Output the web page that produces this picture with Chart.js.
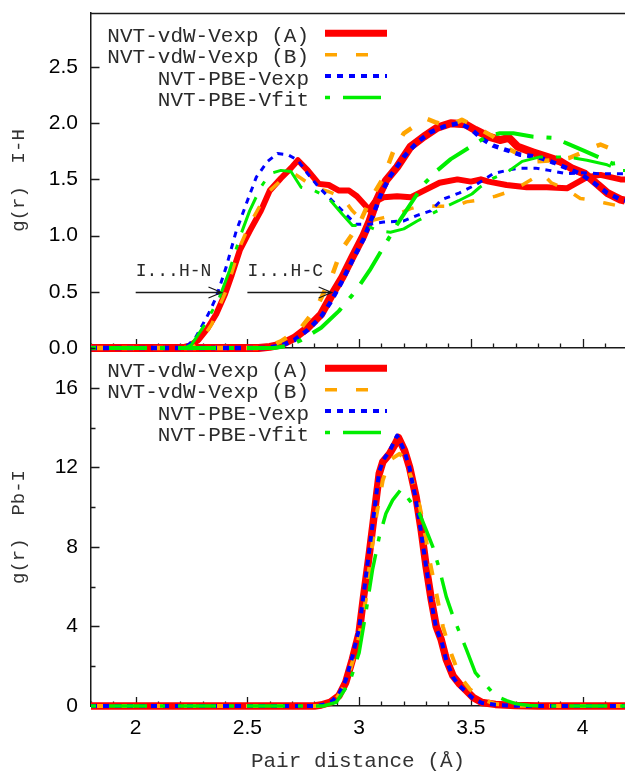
<!DOCTYPE html>
<html>
<head>
<meta charset="utf-8">
<script src="https://cdn.jsdelivr.net/npm/chart.js@4.4.1/dist/chart.umd.min.js"></script>
<style>
  html, body { margin: 0; padding: 0; background: #fff; overflow: hidden; }
  #wrap { position: relative; width: 625px; height: 772px; }
  #wrap canvas { position: absolute; left: 0; top: 0; }
</style>
</head>
<body>
<div id="wrap">
  <canvas id="ihChart" width="625" height="772"></canvas>
  <canvas id="pbiChart" width="625" height="772"></canvas>
</div>
<script>
// series names (legend order)
const seriesNames = ['NVT-vdW-Vexp (A)', 'NVT-vdW-Vexp (B)', 'NVT-PBE-Vexp', 'NVT-PBE-Vfit'];

// ---- I-H panel, I...H-N shell ----
const ihN_A_r = [1.80, 2.20, 2.24, 2.28, 2.32, 2.36, 2.40, 2.43, 2.466, 2.51, 2.56, 2.60, 2.65, 2.695, 2.726, 2.77, 2.82, 2.864, 2.91, 2.955, 2.99, 3.045, 3.07, 3.11, 3.17, 3.23, 3.29, 3.36, 3.44, 3.50, 3.545, 3.58, 3.66, 3.75, 3.84, 3.93, 4.02, 4.08, 4.17, 4.19];
const ihN_A_g = [0, 0, 0.02, 0.07, 0.17, 0.30, 0.48, 0.65, 0.87, 1.04, 1.22, 1.40, 1.51, 1.60, 1.67, 1.58, 1.46, 1.45, 1.40, 1.40, 1.35, 1.23, 1.30, 1.34, 1.35, 1.34, 1.40, 1.47, 1.50, 1.48, 1.50, 1.48, 1.45, 1.43, 1.43, 1.42, 1.52, 1.54, 1.50, 1.50];
const ihN_B_r = [1.80, 2.24, 2.28, 2.34, 2.405, 2.466, 2.51, 2.56, 2.60, 2.65, 2.71, 2.74, 2.80, 2.865, 2.925, 2.97, 3.00, 3.047, 3.11, 3.17, 3.23, 3.29, 3.35, 3.43, 3.48, 3.55, 3.61, 3.67, 3.73, 3.79, 3.82, 3.86, 3.93, 3.99, 4.03, 4.10, 4.17, 4.19];
const ihN_B_g = [0, 0, 0.03, 0.21, 0.51, 0.90, 1.10, 1.28, 1.40, 1.49, 1.55, 1.51, 1.43, 1.39, 1.34, 1.22, 1.16, 1.13, 1.16, 1.19, 1.24, 1.27, 1.26, 1.26, 1.30, 1.32, 1.35, 1.39, 1.45, 1.52, 1.55, 1.47, 1.41, 1.33, 1.32, 1.29, 1.26, 1.26];
const ihN_C_r = [1.80, 2.20, 2.237, 2.27, 2.30, 2.33, 2.36, 2.405, 2.45, 2.50, 2.54, 2.59, 2.635, 2.68, 2.726, 2.77, 2.82, 2.88, 2.94, 2.986, 3.047, 3.11, 3.20, 3.26, 3.32, 3.37, 3.45, 3.52, 3.60, 3.66, 3.72, 3.79, 3.85, 3.93, 4.00, 4.08, 4.17, 4.19];
const ihN_C_g = [0, 0, 0.03, 0.10, 0.21, 0.32, 0.45, 0.72, 1.04, 1.31, 1.52, 1.66, 1.73, 1.72, 1.67, 1.55, 1.43, 1.31, 1.19, 1.10, 1.10, 1.12, 1.13, 1.18, 1.22, 1.32, 1.38, 1.45, 1.55, 1.58, 1.60, 1.60, 1.58, 1.55, 1.56, 1.55, 1.55, 1.55];
const ihN_D_r = [1.80, 2.22, 2.25, 2.31, 2.375, 2.42, 2.466, 2.51, 2.56, 2.60, 2.65, 2.695, 2.74, 2.80, 2.86, 2.925, 2.97, 3.03, 3.09, 3.14, 3.20, 3.26, 3.32, 3.38, 3.445, 3.505, 3.54, 3.60, 3.66, 3.73, 3.81, 3.93, 4.02, 4.11, 4.17, 4.19];
const ihN_D_g = [0, 0, 0.03, 0.21, 0.45, 0.69, 0.985, 1.22, 1.43, 1.55, 1.58, 1.57, 1.43, 1.40, 1.34, 1.19, 1.09, 1.09, 1.04, 1.03, 1.06, 1.13, 1.19, 1.25, 1.31, 1.37, 1.43, 1.51, 1.56, 1.66, 1.70, 1.70, 1.67, 1.63, 1.58, 1.58];

// ---- I-H panel, I...H-C shell ----
const ihC_A_r = [1.80, 2.55, 2.60, 2.65, 2.71, 2.77, 2.83, 2.88, 2.925, 2.97, 3.017, 3.047, 3.078, 3.12, 3.17, 3.23, 3.29, 3.35, 3.41, 3.475, 3.52, 3.58, 3.63, 3.67, 3.71, 3.78, 3.84, 3.90, 3.95, 4.01, 4.07, 4.11, 4.17, 4.19];
const ihC_A_g = [0, 0, 0.01, 0.03, 0.09, 0.18, 0.30, 0.48, 0.63, 0.81, 0.99, 1.13, 1.31, 1.49, 1.61, 1.79, 1.88, 1.96, 2.00, 1.99, 1.94, 1.88, 1.85, 1.87, 1.79, 1.74, 1.70, 1.66, 1.60, 1.55, 1.45, 1.38, 1.32, 1.31];
const ihC_B_r = [1.80, 2.58, 2.65, 2.74, 2.81, 2.88, 2.92, 3.00, 3.047, 3.11, 3.155, 3.20, 3.245, 3.30, 3.34, 3.40, 3.46, 3.52, 3.60, 3.66, 3.72, 3.79, 3.86, 3.94, 4.00, 4.04, 4.08, 4.13, 4.17, 4.19];
const ihC_B_g = [0, 0, 0.06, 0.18, 0.36, 0.65, 0.87, 1.10, 1.31, 1.52, 1.76, 1.91, 1.97, 2.04, 2.01, 1.97, 2.03, 1.97, 1.88, 1.78, 1.72, 1.66, 1.67, 1.69, 1.74, 1.78, 1.81, 1.77, 1.75, 1.74];
const ihC_C_r = [1.80, 2.58, 2.65, 2.71, 2.77, 2.83, 2.87, 2.92, 2.97, 3.02, 3.06, 3.10, 3.14, 3.20, 3.26, 3.32, 3.38, 3.445, 3.50, 3.55, 3.60, 3.66, 3.72, 3.80, 3.87, 3.93, 3.99, 4.05, 4.11, 4.17, 4.19];
const ihC_C_g = [0, 0, 0.02, 0.07, 0.16, 0.28, 0.40, 0.58, 0.78, 0.97, 1.17, 1.38, 1.53, 1.70, 1.83, 1.92, 1.97, 2.00, 1.95, 1.86, 1.80, 1.76, 1.72, 1.70, 1.65, 1.60, 1.55, 1.47, 1.38, 1.32, 1.31];
const ihC_D_r = [1.80, 2.62, 2.68, 2.74, 2.83, 2.91, 2.986, 3.047, 3.11, 3.17, 3.23, 3.29, 3.35, 3.41, 3.49, 3.57, 3.63, 3.69, 3.78, 3.87, 3.93, 4.00, 4.08, 4.135, 4.17, 4.19];
const ihC_D_g = [0, 0, 0.02, 0.07, 0.18, 0.33, 0.51, 0.69, 0.90, 1.10, 1.28, 1.46, 1.58, 1.68, 1.78, 1.88, 1.91, 1.91, 1.88, 1.87, 1.82, 1.76, 1.69, 1.64, 1.65, 1.65];

// ---- Pb-I panel ----
const pbi_A_r = [1.80, 2.80, 2.83, 2.87, 2.91, 2.94, 2.97, 3.00, 3.02, 3.046, 3.07, 3.09, 3.106, 3.136, 3.158, 3.176, 3.203, 3.226, 3.255, 3.278, 3.30, 3.323, 3.345, 3.367, 3.39, 3.42, 3.45, 3.48, 3.51, 3.55, 3.61, 3.70, 3.80, 4.19];
const pbi_A_g = [0, 0, 0.05, 0.18, 0.52, 1.18, 2.35, 3.68, 5.5, 7.68, 9.85, 11.68, 12.27, 12.68, 13.1, 13.5, 12.85, 12.0, 10.5, 8.85, 7.0, 5.35, 4.0, 3.35, 2.35, 1.52, 1.1, 0.77, 0.43, 0.18, 0.08, 0.02, 0, 0];
const pbi_B_r = [1.80, 2.82, 2.86, 2.90, 2.94, 2.97, 3.00, 3.03, 3.046, 3.076, 3.106, 3.136, 3.18, 3.20, 3.23, 3.26, 3.285, 3.315, 3.345, 3.375, 3.405, 3.45, 3.495, 3.55, 3.61, 3.70, 3.80, 4.19];
const pbi_B_g = [0, 0, 0.1, 0.4, 1.1, 2.2, 3.5, 5.35, 7.0, 9.5, 11.35, 12.35, 12.68, 12.5, 11.6, 10.6, 9.3, 7.35, 5.7, 4.0, 2.85, 1.5, 0.85, 0.35, 0.1, 0.02, 0, 0];
const pbi_C_r = [1.80, 2.80, 2.84, 2.88, 2.91, 2.94, 2.97, 3.00, 3.02, 3.045, 3.07, 3.09, 3.11, 3.14, 3.17, 3.20, 3.225, 3.25, 3.275, 3.30, 3.32, 3.345, 3.37, 3.39, 3.42, 3.45, 3.48, 3.51, 3.55, 3.61, 3.70, 3.80, 4.19];
const pbi_C_g = [0, 0, 0.06, 0.25, 0.6, 1.3, 2.5, 3.9, 5.6, 7.8, 10.0, 11.8, 12.4, 12.9, 13.6, 12.9, 12.0, 10.6, 8.9, 7.0, 5.4, 3.9, 3.2, 2.3, 1.45, 1.0, 0.7, 0.38, 0.15, 0.06, 0.01, 0, 0];
const pbi_D_r = [1.80, 2.84, 2.897, 2.957, 3.00, 3.03, 3.06, 3.09, 3.12, 3.15, 3.188, 3.225, 3.27, 3.30, 3.33, 3.36, 3.39, 3.42, 3.45, 3.48, 3.52, 3.57, 3.61, 3.66, 3.70, 3.76, 3.85, 4.19];
const pbi_D_g = [0, 0, 0.18, 1.18, 2.68, 4.68, 6.85, 8.5, 9.68, 10.35, 10.9, 10.35, 9.68, 8.85, 8.0, 6.85, 5.5, 4.52, 3.68, 2.85, 1.68, 1.02, 0.52, 0.27, 0.12, 0.03, 0, 0];

// axis ranges and ticks
const rRange = [1.8, 4.19];
const ihRange = [0, 2.98];
const pbiRange = [0, 18];
const rStep = 0.5, ihStep = 0.5, pbiStep = 4;

// annotation arrows in the I-H panel
const arrowLabels = ['I...H-N', 'I...H-C'];
const arrowFrom = [2.0, 2.5];
const arrowTo = [2.384, 2.877];
const arrowLevel = 0.5;
const arrowLabelLevel = 0.68;

// styles
const seriesColors = ['#ff0000', '#ffa500', '#0000ff', '#00ee00'];
const seriesDash = [[], [12, 19], [6, 6], [5, 13, 38, 13]];
const legendWidth = [7, 3.5, 4, 3.5];
const widthN = [6, 3.5, 3, 3];
const widthC = [8, 4.5, 4.5, 4];
const widthPbI = [7.5, 4, 4, 3.5];

const MONO = "'Liberation Mono', 'DejaVu Sans Mono', monospace";
const SANS = "'Liberation Sans', Arial, sans-serif";
const INK = '#1a1a1a';

function pts(rs, gs) {
  return rs.map((r, i) => ({ x: r, y: gs[i] }));
}

function curve(i, rs, gs, width) {
  return {
    label: seriesNames[i],
    data: pts(rs, gs),
    borderColor: seriesColors[i],
    backgroundColor: seriesColors[i],
    borderDash: seriesDash[i],
    borderWidth: width,
    borderCapStyle: 'butt',
    borderJoinStyle: 'round',
    pointRadius: 0,
    tension: 0,
    fill: false,
    order: 4 - i,
    clip: { left: 0, top: 0, right: 0, bottom: 6 }
  };
}

// gnuplot-like key: text right-aligned, line sample to the right
const keyPlugin = {
  id: 'gpKey',
  afterDatasetsDraw(chart) {
    const { ctx, chartArea: a } = chart;
    ctx.save();
    ctx.font = '21px ' + MONO;
    ctx.textAlign = 'right';
    ctx.textBaseline = 'alphabetic';
    ctx.fillStyle = '#2a2a2a';
    seriesNames.forEach((name, i) => {
      const base = a.top + 28.7 + i * 21.4;
      ctx.fillText(name, a.left + 218, base);
      ctx.beginPath();
      ctx.strokeStyle = seriesColors[i];
      ctx.lineWidth = legendWidth[i];
      ctx.lineCap = 'butt';
      ctx.setLineDash(seriesDash[i]);
      ctx.moveTo(a.left + 234, base - 8.4);
      ctx.lineTo(a.left + 296, base - 8.4);
      ctx.stroke();
    });
    ctx.restore();
  }
};

// inward tick marks (major + minor), drawn through the scales
const tickPlugin = {
  id: 'inTicks',
  beforeDatasetsDraw(chart, args, o) {
    const { ctx, chartArea: a, scales: { x, y } } = chart;
    ctx.save();
    ctx.strokeStyle = INK;
    ctx.lineWidth = 1.3;
    ctx.setLineDash([]);
    ctx.beginPath();
    const i0 = Math.ceil(x.min / o.xMinor - 1e-6), i1 = Math.floor(x.max / o.xMinor + 1e-6);
    for (let i = i0; i <= i1; i++) {
      const px = Math.round(x.getPixelForValue(i * o.xMinor)) + 0.5;
      const len = i % o.xEvery === 0 ? 9 : 4.5;
      ctx.moveTo(px, a.bottom);
      ctx.lineTo(px, a.bottom - len);
    }
    const j0 = Math.ceil(y.min / o.yMinor - 1e-6), j1 = Math.floor(y.max / o.yMinor + 1e-6);
    for (let j = j0; j <= j1; j++) {
      const py = Math.round(y.getPixelForValue(j * o.yMinor)) + 0.5;
      const len = j % o.yEvery === 0 ? 8.5 : 4.5;
      ctx.moveTo(a.left, py);
      ctx.lineTo(a.left + len, py);
    }
    ctx.stroke();
    if (o.topFrame) {
      ctx.lineWidth = 1.5;
      ctx.beginPath();
      ctx.moveTo(a.left, Math.round(a.top) + 0.5);
      ctx.lineTo(a.right, Math.round(a.top) + 0.5);
      ctx.stroke();
    }
    ctx.restore();
  }
};

// the two I...H arrows
const arrowPlugin = {
  id: 'ihArrows',
  afterDatasetsDraw(chart) {
    const { ctx, scales: { x, y } } = chart;
    ctx.save();
    ctx.strokeStyle = INK;
    ctx.fillStyle = '#2a2a2a';
    ctx.lineWidth = 1.3;
    ctx.font = '18px ' + MONO;
    ctx.textAlign = 'left';
    ctx.textBaseline = 'middle';
    arrowLabels.forEach((lab, i) => {
      const x0 = x.getPixelForValue(arrowFrom[i]);
      const x1 = x.getPixelForValue(arrowTo[i]);
      const py = Math.round(y.getPixelForValue(arrowLevel)) + 0.5;
      ctx.beginPath();
      ctx.moveTo(x0, py);
      ctx.lineTo(x1, py);
      ctx.moveTo(x1 - 13, py - 5.5);
      ctx.lineTo(x1, py);
      ctx.lineTo(x1 - 13, py + 5.5);
      ctx.stroke();
      ctx.fillText(lab, x0, y.getPixelForValue(arrowLabelLevel));
    });
    ctx.restore();
  }
};

function fixBox(size) {
  return s => {
    if (s.isHorizontal()) s.height = size; else s.width = size;
    s.paddingTop = 0; s.paddingBottom = 0; s.paddingLeft = 0; s.paddingRight = 0;
  };
}

function yAxis(range, step, title, fmt) {
  return {
    type: 'linear',
    min: range[0],
    max: range[1],
    afterFit: fixBox(91),
    grid: { display: false, drawTicks: false },
    border: { display: true, color: INK, width: 1.5 },
    ticks: {
      stepSize: step,
      includeBounds: false,
      padding: 13,
      color: '#000',
      font: { family: SANS, size: 21 },
      callback: fmt
    },
    title: {
      display: true,
      text: title,
      color: '#333',
      font: { family: MONO, size: 19, lineHeight: 1.2 },
      padding: { top: 8, bottom: 0 }
    }
  };
}

Chart.defaults.animation = false;

new Chart(document.getElementById('ihChart'), {
  type: 'line',
  data: {
    datasets: [0, 1, 2, 3].flatMap(i => {
      const N = [ihN_A_r, ihN_B_r, ihN_C_r, ihN_D_r][i], Ng = [ihN_A_g, ihN_B_g, ihN_C_g, ihN_D_g][i];
      const C = [ihC_A_r, ihC_B_r, ihC_C_r, ihC_D_r][i], Cg = [ihC_A_g, ihC_B_g, ihC_C_g, ihC_D_g][i];
      return [curve(i, N, Ng, widthN[i]), curve(i, C, Cg, widthC[i])];
    })
  },
  options: {
    responsive: false,
    devicePixelRatio: 1,
    layout: { padding: { top: 13, left: 0, right: 0, bottom: 0 } },
    plugins: {
      legend: { display: false },
      tooltip: { enabled: false },
      inTicks: { xMinor: 0.1, xEvery: 5, yMinor: 0.5, yEvery: 1, topFrame: true }
    },
    scales: {
      x: {
        type: 'linear',
        min: rRange[0],
        max: rRange[1],
        afterFit: fixBox(772 - 348),
        grid: { display: false, drawTicks: false },
        border: { display: true, color: INK, width: 1.5 },
        ticks: { display: false, stepSize: rStep, includeBounds: false }
      },
      y: yAxis(ihRange, ihStep, 'g(r)  I-H', v => v.toFixed(1))
    }
  },
  plugins: [tickPlugin, arrowPlugin, keyPlugin]
});

new Chart(document.getElementById('pbiChart'), {
  type: 'line',
  data: {
    datasets: [
      curve(0, pbi_A_r, pbi_A_g, widthPbI[0]),
      curve(1, pbi_B_r, pbi_B_g, widthPbI[1]),
      curve(2, pbi_C_r, pbi_C_g, widthPbI[2]),
      curve(3, pbi_D_r, pbi_D_g, widthPbI[3])
    ]
  },
  options: {
    responsive: false,
    devicePixelRatio: 1,
    layout: { padding: { top: 348, left: 0, right: 0, bottom: 0 } },
    plugins: {
      legend: { display: false },
      tooltip: { enabled: false },
      inTicks: { xMinor: 0.1, xEvery: 5, yMinor: 2, yEvery: 2, topFrame: false }
    },
    scales: {
      x: {
        type: 'linear',
        min: rRange[0],
        max: rRange[1],
        afterFit: fixBox(772 - 706),
        grid: { display: false, drawTicks: false },
        border: { display: true, color: INK, width: 1.5 },
        ticks: {
          stepSize: rStep,
          includeBounds: false,
          padding: 10,
          color: '#000',
          font: { family: SANS, size: 21 },
          maxRotation: 0,
          callback: v => String(v)
        },
        title: {
          display: true,
          text: 'Pair distance (Å)',
          color: '#333',
          font: { family: MONO, size: 21, lineHeight: 1 },
          padding: { top: 0, bottom: 0 }
        }
      },
      y: yAxis(pbiRange, pbiStep, 'g(r)  Pb-I', v => String(v))
    }
  },
  plugins: [tickPlugin, keyPlugin]
});
</script>
</body>
</html>
